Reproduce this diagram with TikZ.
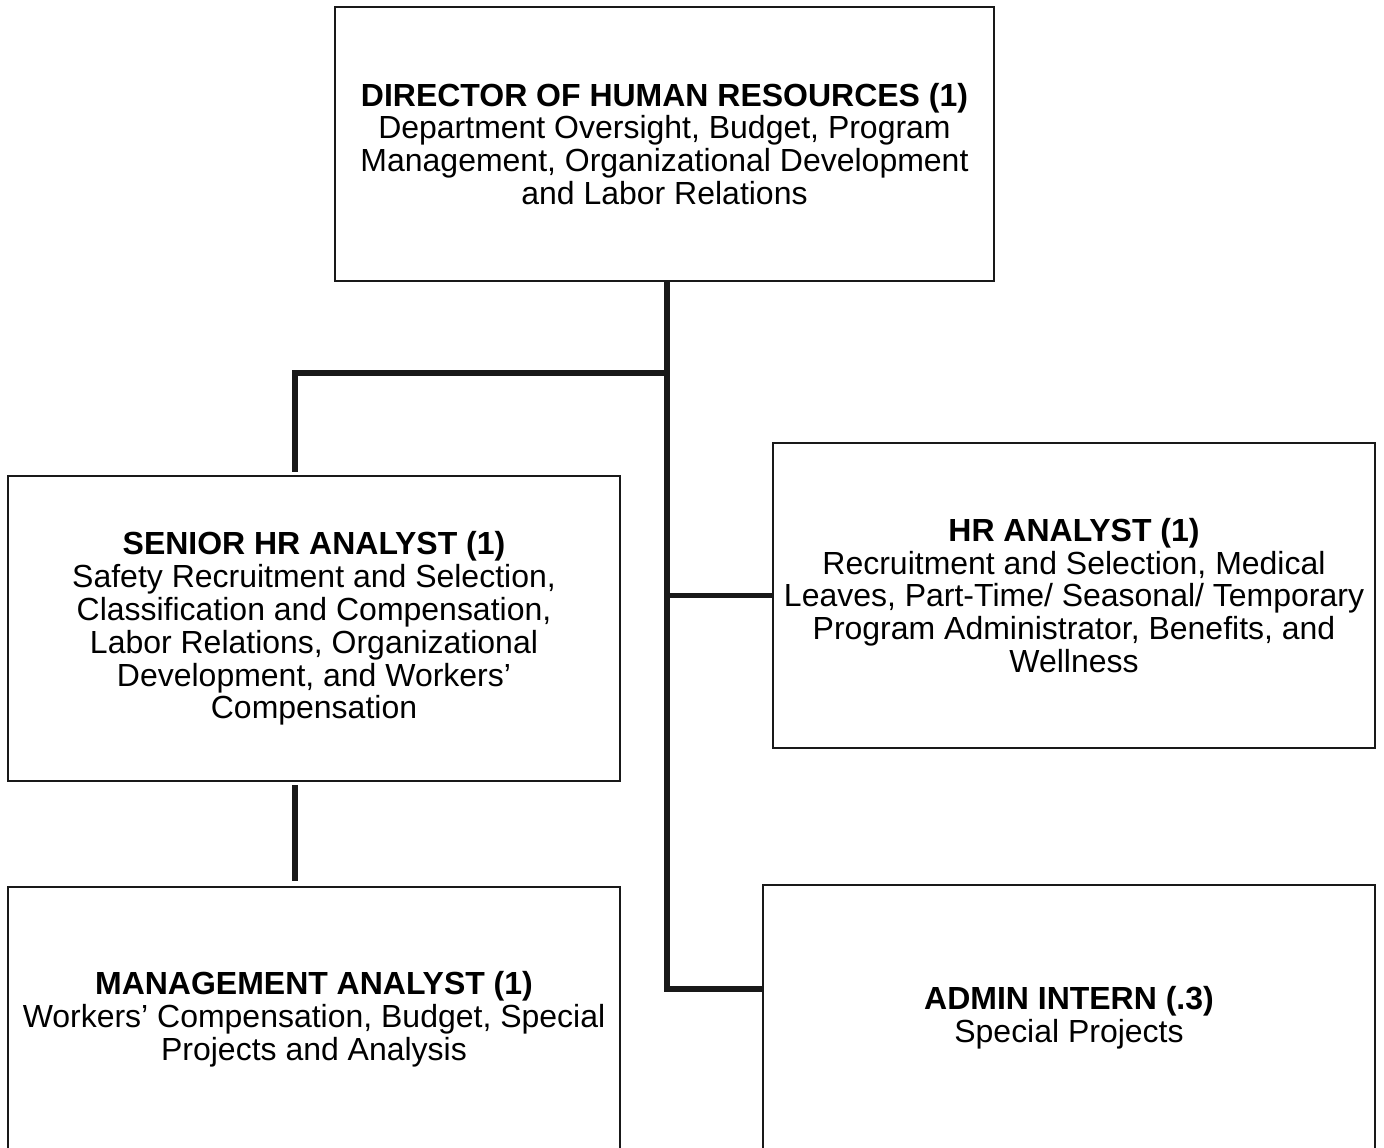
\documentclass[tikz,border=0pt]{standalone}
\usepackage{fontspec}
\setmainfont{Liberation Sans}
\usepackage{tikz}
\usetikzlibrary{calc}

\begin{document}
\begin{tikzpicture}[
    box/.style={rectangle, draw=black!90, line width=1.1pt, fill=white,
        inner sep=0pt, align=center,
        font=\fontsize{18.2}{18.7}\selectfont},
    link/.style={line width=2.9pt, black!90},
]
\clip (0,0) rectangle (27.68,-22.96);

\node[box, minimum width=13.18cm, minimum height=5.48cm] (dir) at (13.29,-2.88)
    {\textbf{DIRECTOR OF HUMAN RESOURCES (1)}\\
     Department Oversight, Budget, Program\\
     Management, Organizational Development\\
     and Labor Relations};
\node[box, minimum width=12.24cm, minimum height=6.10cm] (senior) at (6.28,-12.57)
    {\textbf{SENIOR HR ANALYST (1)}\\
     Safety Recruitment and Selection,\\
     Classification and Compensation,\\
     Labor Relations, Organizational\\
     Development, and Workers'\\
     Compensation};
\node[box, minimum width=12.04cm, minimum height=6.10cm] (hr) at (21.48,-11.91)
    {\textbf{HR ANALYST (1)}\\
     Recruitment and Selection, Medical\\
     Leaves, Part-Time/ Seasonal/ Temporary\\
     Program Administrator, Benefits, and\\
     Wellness};
\node[box, minimum width=12.24cm, minimum height=5.30cm] (mgmt) at (6.28,-20.39)
    {\textbf{MANAGEMENT ANALYST (1)}\\
     Workers' Compensation, Budget, Special\\
     Projects and Analysis};
\node[box, minimum width=12.24cm, minimum height=5.30cm] (intern) at (21.38,-20.35)
    {\textbf{ADMIN INTERN (.3)}\\
     Special Projects};

\coordinate (trunk) at (13.34,-7.46);
\coordinate (sr top) at (5.90,-9.44);
\coordinate (sr foot) at (5.90,-15.70);
\coordinate (mg top) at (5.90,-17.62);
\coordinate (in joint) at (13.34,-19.78);

\draw[link] (dir.south -| trunk) -- (in joint) -- (in joint -| intern.west);
\draw[link] (trunk) -| (sr top);
\draw[link] (trunk |- hr.west) -- (hr.west);
\draw[link] (sr foot) -- (mg top);
\end{tikzpicture}
\end{document}
